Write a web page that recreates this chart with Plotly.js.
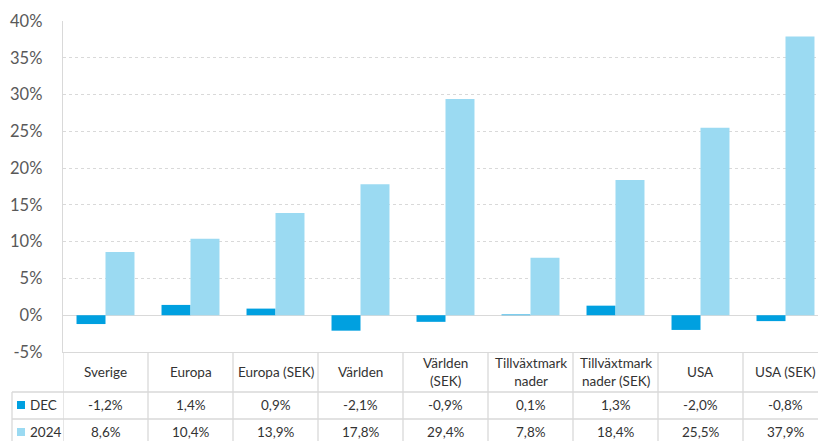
<!DOCTYPE html>
<html>
<head>
<meta charset="utf-8">
<script src="https://cdn.plot.ly/plotly-3.0.1.min.js"></script>
<style>html,body{margin:0;padding:0;background:#fff;}#chart{width:818px;height:441px;}</style>
</head>
<body>
<div id="chart"></div>
<script>
const categories = ["Sverige", "Europa", "Europa (SEK)", "Världen", "Världen<br>(SEK)", "Tillväxtmark<br>nader", "Tillväxtmark<br>nader (SEK)", "USA", "USA (SEK)"];
const seriesNames = ["DEC", "2024"];
const decValues = [-1.2, 1.4, 0.9, -2.1, -0.9, 0.1, 1.3, -2.0, -0.8];
const yearValues = [8.6, 10.4, 13.9, 17.8, 29.4, 7.8, 18.4, 25.5, 37.9];
const tickValues = [-5, 0, 5, 10, 15, 20, 25, 30, 35, 40];
const tickLabels = ["-5%", "0%", "5%", "10%", "15%", "20%", "25%", "30%", "35%", "40%"];

const colDec = "#00A0E0";
const col24 = "#9BDAF2";
const lineCol = "#D9D9D9";
const textCol = "#333333";
const FONT = "Lato, 'Open Sans', sans-serif";
const TS = 13.5;

const xs = categories.map((c, i) => i);
const fmt = v => v.toFixed(1).replace(".", ",") + "%";

const plotL = 63, plotW = 755, plotT = 21, plotH = 331;
const px = p => (p - plotL) / plotW;
const py = p => (plotT + plotH - p) / plotH;

const traces = [
  {type: "bar", name: seriesNames[0], x: xs, y: decValues, marker: {color: colDec}, hoverinfo: "skip"},
  {type: "bar", name: seriesNames[1], x: xs, y: yearValues, marker: {color: col24}, hoverinfo: "skip"}
];

const shapes = [];
const annotations = [];
[392, 419].forEach(yy => shapes.push({type: "line", xref: "paper", yref: "paper", x0: px(12), x1: 1.01, y0: py(yy), y1: py(yy), line: {color: lineCol, width: 1.3}}));
shapes.push({type: "line", xref: "paper", yref: "paper", x0: px(12), x1: px(12), y0: py(392), y1: py(445), line: {color: lineCol, width: 1.3}});
for (let k = 0; k <= categories.length; k++) {
  shapes.push({type: "line", xref: "x", yref: "paper", x0: k - 0.5, x1: k - 0.5, y0: 0, y1: py(445), line: {color: lineCol, width: 1.3}});
}
[[405, colDec], [432, col24]].forEach(([yy, c]) => shapes.push({type: "rect", xref: "paper", yref: "paper", x0: px(17), x1: px(25), y0: py(yy + 4), y1: py(yy - 4), fillcolor: c, line: {width: 0}}));
annotations.push({xref: "paper", yref: "paper", x: px(28), y: py(405), xanchor: "left", yanchor: "middle", text: seriesNames[0], showarrow: false, font: {family: FONT, size: TS, color: textCol}});
annotations.push({xref: "paper", yref: "paper", x: px(28), y: py(432), xanchor: "left", yanchor: "middle", text: seriesNames[1], showarrow: false, font: {family: FONT, size: TS, color: textCol}});

categories.forEach((c, i) => {
  annotations.push({xref: "x", yref: "paper", x: i, y: py(372), xanchor: "center", yanchor: "middle", text: c, showarrow: false, font: {family: FONT, size: TS, color: textCol}});
  annotations.push({xref: "x", yref: "paper", x: i, y: py(405), xanchor: "center", yanchor: "middle", text: fmt(decValues[i]), showarrow: false, font: {family: FONT, size: TS, color: textCol}});
  annotations.push({xref: "x", yref: "paper", x: i, y: py(432), xanchor: "center", yanchor: "middle", text: fmt(yearValues[i]), showarrow: false, font: {family: FONT, size: TS, color: textCol}});
});

const layout = {
  width: 818, height: 441,
  margin: {l: plotL, r: 0, t: plotT, b: 441 - plotT - plotH, pad: 0},
  paper_bgcolor: "#fff", plot_bgcolor: "#fff",
  showlegend: false,
  barmode: "group", bargap: 0.318, bargroupgap: 0,
  font: {family: FONT, color: textCol},
  xaxis: {range: [-0.5, -0.5 + plotW / 85], showticklabels: false, showgrid: false, zeroline: false, showline: true, linecolor: lineCol, linewidth: 1.3, fixedrange: true},
  yaxis: {range: [-5, 40], tickvals: tickValues, ticktext: tickLabels, showgrid: true, gridcolor: lineCol, griddash: "dot", gridwidth: 1,
          zeroline: true, zerolinecolor: lineCol, zerolinewidth: 1.3, showline: true, linecolor: lineCol, linewidth: 1.3,
          tickfont: {family: FONT, size: 16.5, color: "#595959"}, ticks: "", ticklabelstandoff: 16, fixedrange: true},
  shapes: shapes,
  annotations: annotations
};

Plotly.newPlot("chart", traces, layout, {displayModeBar: false, staticPlot: true});
</script>
</body>
</html>
